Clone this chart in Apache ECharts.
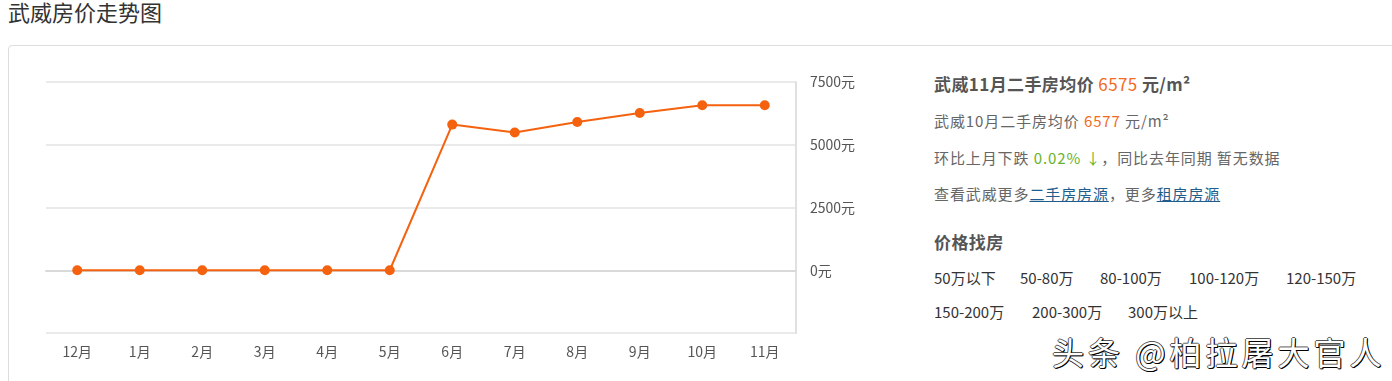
<!DOCTYPE html>
<html><head><meta charset="utf-8">
<script src="https://cdn.jsdelivr.net/npm/echarts@6/dist/echarts.min.js"></script>
<style>
html,body{margin:0;padding:0;width:1392px;height:381px;overflow:hidden;background:#fff;font-family:"Noto Sans CJK SC","Noto Sans",sans-serif;}
#title{position:absolute;left:8px;top:-3px;font-size:22px;color:#333;line-height:28px;}
#card{position:absolute;left:8px;top:45px;width:1400px;height:360px;border:1px solid #ddd;border-radius:4px;}
#chart{position:absolute;left:0;top:0;width:900px;height:381px;}
#panel{position:absolute;left:934px;top:0;color:#666;font-size:15px;}
.ln{position:absolute;left:0;white-space:nowrap;line-height:20px;letter-spacing:0.9px;}
.h{font-size:17px;font-weight:bold;color:#555;letter-spacing:0.4px;}
.or{color:#f26b21;font-weight:normal;}
.gr{color:#6ab22c;}
a{color:#1f5e8c;text-decoration:underline;}
.p{position:absolute;white-space:nowrap;font-size:15px;color:#333;line-height:20px;}
#wm{position:absolute;left:1052px;top:328px;font-size:32px;color:#fff;white-space:nowrap;letter-spacing:4px;
text-shadow:1px 1px 0 #000,-1px 0 0 #555,0 -1px 0 #555,1px 0 0 #222,0 1px 0 #222;}
</style></head>
<body>
<div id="title">武威房价走势图</div>
<div id="card"></div>
<div id="chart"></div>
<div id="panel">
<div class="ln h" style="top:74px">武威11月二手房均价 <span class="or">6575</span> 元/m²</div>
<div class="ln" style="top:111px">武威10月二手房均价 <span class="or">6577</span> 元/m²</div>
<div class="ln" style="top:148px">环比上月下跌 <span class="gr">0.02% ↓</span>，同比去年同期 暂无数据</div>
<div class="ln" style="top:184px">查看武威更多<a>二手房房源</a>，更多<a>租房房源</a></div>
<div class="ln h" style="top:232px">价格找房</div>
</div>
<div class="p" style="left:934px;top:268px">50万以下</div>
<div class="p" style="left:1020px;top:268px">50-80万</div>
<div class="p" style="left:1100px;top:268px">80-100万</div>
<div class="p" style="left:1189px;top:268px">100-120万</div>
<div class="p" style="left:1286px;top:268px">120-150万</div>
<div class="p" style="left:934px;top:302px">150-200万</div>
<div class="p" style="left:1032px;top:302px">200-300万</div>
<div class="p" style="left:1128px;top:302px">300万以上</div>
<div id="wm">头条 @柏拉屠大官人</div>
<script>
var months = ['12月','1月','2月','3月','4月','5月','6月','7月','8月','9月','10月','11月'];
var prices = [0,0,0,0,0,0,5803,5485,5907,6265,6577,6575];
var yMin = -2500, yMax = 7500, yStep = 2500;

var chart = echarts.init(document.getElementById('chart'));
chart.setOption({
  animation:false,
  grid:{left:46,right:104,top:82,bottom:48},
  xAxis:{type:'category',data:months,boundaryGap:true,
    axisLine:{lineStyle:{color:'#d9d9d9',width:2}},
    axisTick:{alignWithLabel:true,length:4,lineStyle:{color:'#ccc'}},
    axisLabel:{color:'#555',fontSize:14,margin:12,fontFamily:'Noto Sans CJK SC'}},
  yAxis:{type:'value',position:'right',min:yMin,max:yMax,interval:yStep,
    axisLine:{show:true,lineStyle:{color:'#e0e0e0',width:2}},
    axisTick:{show:false},
    splitLine:{lineStyle:{color:'#e3e3e3',width:1.5}},
    axisLabel:{color:'#555',fontSize:14,margin:14,fontFamily:'Noto Sans CJK SC',
      formatter:function(v){return v<0?'':v+'元';}}},
  series:[{type:'line',data:prices,symbol:'circle',symbolSize:10,
    itemStyle:{color:'#f5620f'},lineStyle:{color:'#f5620f',width:2}}]
});
</script>
</body></html>
